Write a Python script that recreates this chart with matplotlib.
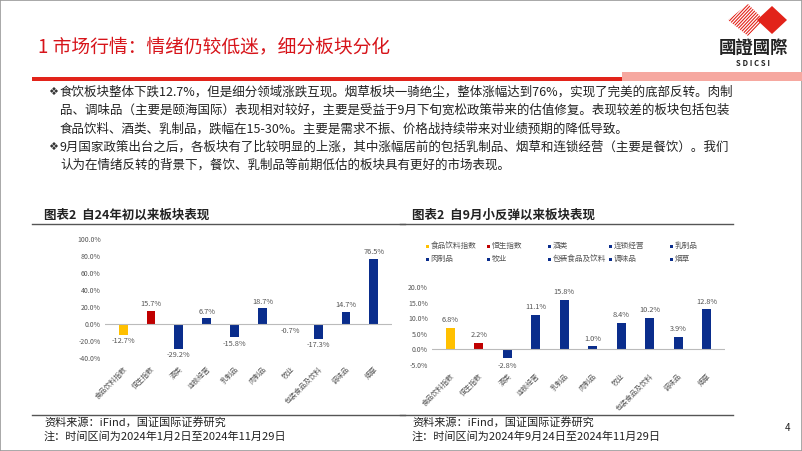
import numpy as np
import matplotlib.pyplot as plt
from matplotlib.patches import Polygon, Rectangle
from matplotlib.lines import Line2D

plt.rcParams['font.family'] = ['Noto Sans CJK SC', 'DejaVu Sans']

categories = ['食品饮料指数', '恒生指数', '酒类', '连锁经营', '乳制品',
              '肉制品', '牧业', '包装食品及饮料', '调味品', '烟草']
ytd_values = [-12.7, 15.7, -29.2, 6.7, -15.8, 18.7, -0.7, -17.3, 14.7, 76.5]
rebound_values = [6.8, 2.2, -2.8, 11.1, 15.8, 1.0, 8.4, 10.2, 3.9, 12.8]
bar_colors = ['#FFC000', '#C00000'] + ['#0A2D8C'] * 8

title = '1 市场行情：情绪仍较低迷，细分板块分化'
para_lines = [
    ['食饮板块整体下跌12.7%，但是细分领域涨跌互现。烟草板块一骑绝尘，整体涨幅达到76%，实现了完美的底部反转。肉制',
     '品、调味品（主要是颐海国际）表现相对较好，主要是受益于9月下旬宽松政策带来的估值修复。表现较差的板块包括包装',
     '食品饮料、酒类、乳制品，跌幅在15-30%。主要是需求不振、价格战持续带来对业绩预期的降低导致。'],
    ['9月国家政策出台之后，各板块有了比较明显的上涨，其中涨幅居前的包括乳制品、烟草和连锁经营（主要是餐饮）。我们',
     '认为在情绪反转的背景下，餐饮、乳制品等前期低估的板块具有更好的市场表现。'],
]

W, H = 802, 451
fig = plt.figure(figsize=(W / 100, H / 100), dpi=100)
fig.patch.set_facecolor('white')


def fx(x):
    return x / W


def fy(y):
    return 1 - y / H


def ftext(x, y, s, **kw):
    fig.text(fx(x), fy(y), s, **kw)


def fline(x0, x1, y, color, lw):
    fig.add_artist(Line2D([fx(x0), fx(x1)], [fy(y), fy(y)], color=color, lw=lw))


# page frame
fig.add_artist(Rectangle((0, 0), 1, 1, fill=False, ec='#999999', lw=1.2))

# header
ftext(38, 47, title, fontsize=13.5, color='#D7141A', va='center')
fig.add_artist(Rectangle((fx(622), fy(81)), fx(802) - fx(622), fy(72) - fy(81),
                         color='#F6A8A0', lw=0))
fig.add_artist(Rectangle((fx(32), fy(81)), fx(622) - fx(32), fy(77) - fy(81),
                         color='#E2231A', lw=0))

# logo
dia = Polygon([(fx(772), fy(6)), (fx(787), fy(20)), (fx(772), fy(34)), (fx(757), fy(20))],
              closed=True, color='#E2231A', lw=0)
fig.add_artist(dia)
clip = Polygon([(fx(748), fy(4)), (fx(764), fy(20)), (fx(748), fy(36)), (fx(728), fy(20))],
               closed=True, transform=fig.transFigure, fill=False, lw=0)
fig.add_artist(clip)
for x0 in np.arange(710, 775, 3.2):
    ln = Line2D([fx(x0), fx(x0 + 34)], [fy(38), fy(2)], color='#E2231A', lw=0.8)
    fig.add_artist(ln)
    ln.set_clip_path(clip)
ftext(753, 48, '國證國際', fontsize=12.5, family='Noto Sans CJK TC', fontweight='bold',
      color='#222222', ha='center', va='center')
ftext(753, 63, 'S D I C S I', fontsize=5.5, fontweight='bold', color='#222222',
      ha='center', va='center')

# bullet text
y = 92
for para in para_lines:
    ftext(48, y, '❖', fontsize=8, color='#333333', va='center', family='DejaVu Sans')
    for line in para:
        ftext(60, y, line, fontsize=9, color='#222222', va='center')
        y += 18.5
    y -= 0.5

# chart titles and rules
ftext(44, 215, '图表2  自24年初以来板块表现', fontsize=9, fontweight='bold', color='#222222', va='center')
ftext(412, 215, '图表2  自9月小反弹以来板块表现', fontsize=9, fontweight='bold', color='#222222', va='center')
fline(32, 405, 224, '#555555', 1.0)
fline(400, 733, 224, '#555555', 1.0)
fline(32, 405, 415, '#555555', 1.0)
fline(400, 733, 415, '#555555', 1.0)
ftext(44, 422, '资料来源：iFind，国证国际证券研究', fontsize=8, color='#222222', va='center')
ftext(44, 436, '注：时间区间为2024年1月2日至2024年11月29日', fontsize=8, color='#222222', va='center')
ftext(412, 422, '资料来源：iFind，国证国际证券研究', fontsize=8, color='#222222', va='center')
ftext(412, 436, '注：时间区间为2024年9月24日至2024年11月29日', fontsize=8, color='#222222', va='center')
ftext(785, 428, '4', fontsize=7, color='#222222', va='center')


def bar_panel(ax, values, ymin, ymax, step, offset):
    x = np.arange(len(values))
    ax.bar(x, values, width=0.32, color=bar_colors)
    ax.axhline(0, color='#BBBBBB', lw=0.8)
    ax.set_ylim(ymin, ymax)
    ax.set_xlim(-0.65, len(values) - 0.35)
    ticks = np.arange(ymin, ymax + step / 2, step)
    ax.set_yticks(ticks)
    ax.set_yticklabels([f'{v:.1f}%' for v in ticks])
    ax.set_xticks(x)
    ax.set_xticklabels(categories, rotation=45, ha='right', rotation_mode='anchor')
    ax.tick_params(axis='both', labelsize=5, colors='#555555', length=0, pad=3)
    ax.tick_params(axis='x', pad=5)
    for s in ax.spines.values():
        s.set_visible(False)
    for xi, v in zip(x, values):
        if v >= 0:
            ax.text(xi, v + offset, f'{v:.1f}%', ha='center', va='bottom', fontsize=5.3, color='#555555')
        else:
            ax.text(xi, v - offset, f'{v:.1f}%', ha='center', va='top', fontsize=5.3, color='#555555')


ax1 = fig.add_axes([fx(105), fy(358), fx(392) - fx(105), fy(239) - fy(358)])
bar_panel(ax1, ytd_values, -40, 100, 20, 3)

ax2 = fig.add_axes([fx(432), fy(365), fx(725) - fx(432), fy(287) - fy(365)])
bar_panel(ax2, rebound_values, -5, 20, 5, 1.2)

# legend, 5 columns x 2 rows, row-major
for i, (lab, c) in enumerate(zip(categories, bar_colors)):
    lx = 427 + 61 * (i % 5)
    ly = 246 + 13 * (i // 5)
    fig.add_artist(Rectangle((fx(lx - 1.5), fy(ly + 1.5)), fx(3), fy(0) - fy(3), color=c, lw=0))
    ftext(lx + 3.5, ly, lab, fontsize=5.5, color='#555555', va='center')

fig.savefig('out.png', dpi=100)
